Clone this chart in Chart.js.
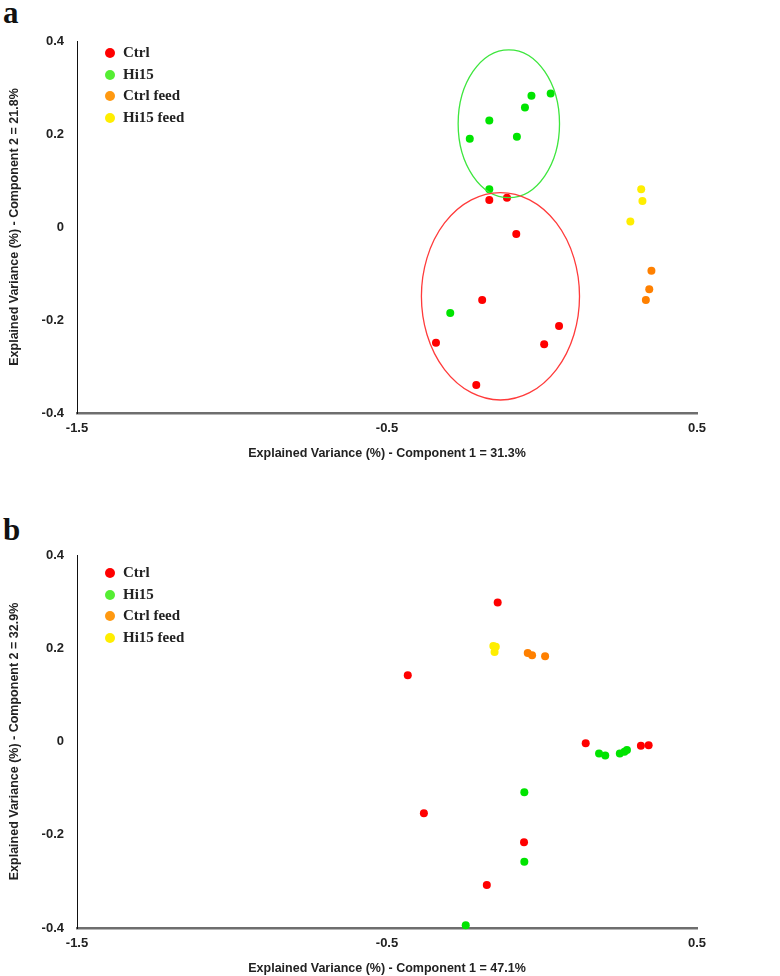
<!DOCTYPE html>
<html>
<head>
<meta charset="utf-8">
<script src="https://cdn.jsdelivr.net/npm/chart.js@4"></script>
<style>
    html, body { margin: 0; padding: 0; background: #fff; overflow: hidden; }
    body { width: 780px; height: 976px; position: relative; }
    .panel { position: absolute; left: 0; width: 780px; }
    .tag { position: absolute; left: 3px; font: bold 31px "Liberation Serif", serif; color: #111; }
    .legend { position: absolute; left: 105px; font: bold 15px "Liberation Serif", serif; color: #222; }
    .legend div { position: absolute; left: 0; white-space: nowrap; height: 20px; line-height: 20px; }
    .legend span { display: inline-block; width: 10px; height: 10px; border-radius: 50%; margin-right: 8px; vertical-align: -1px; }
</style>
</head>
<body>
<div class="tag" style="top:-5px">a</div>
<div class="tag" style="top:512px">b</div>
<div class="panel" style="top:0; height:480px"><canvas id="chartA" width="780" height="480"></canvas></div>
<div class="panel" style="top:480px; height:496px"><canvas id="chartB" width="780" height="496"></canvas></div>
<div class="legend" id="legendA" style="top:42px"></div>
<div class="legend" id="legendB" style="top:562px"></div>
<script>
"use strict";

var groups = ["Ctrl", "Hi15", "Ctrl feed", "Hi15 feed"];
var pointColors = ["#ff0000", "#00e400", "#ff8000", "#ffee00"];
var legendColors = ["#ff0000", "#55ee33", "#ff9911", "#ffee00"];

var xTicks = [-1.5, -0.5, 0.5];
var yTicks = [-0.4, -0.2, 0, 0.2, 0.4];

// panel a
var ctrlAx = [-0.170, -0.113, -0.083, -0.193, -0.342, 0.055, 0.007, -0.212];
var ctrlAy = [0.058, 0.063, -0.015, -0.157, -0.249, -0.213, -0.252, -0.340];
var hi15Ax = [-0.233, -0.170, -0.081, -0.055, -0.034, 0.028, -0.170, -0.296];
var hi15Ay = [0.190, 0.229, 0.194, 0.257, 0.282, 0.287, 0.081, -0.185];
var ctrlFeedAx = [0.353, 0.346, 0.335];
var ctrlFeedAy = [-0.094, -0.134, -0.157];
var hi15FeedAx = [0.320, 0.324, 0.285];
var hi15FeedAy = [0.081, 0.056, 0.012];

// ellipses of panel a: centre x, centre y, radius x, radius y
var ellipseCtrlA = [-0.134, -0.149, 0.255, 0.223];
var ellipseHi15A = [-0.107, 0.222, 0.1635, 0.159];

// panel b
var ctrlBx = [-0.143, -0.433, 0.141, 0.319, 0.344, -0.381, -0.058, -0.178];
var ctrlBy = [0.298, 0.142, -0.004, -0.009, -0.008, -0.154, -0.216, -0.308];
var hi15Bx = [0.184, 0.204, 0.251, 0.266, 0.274, -0.057, -0.057, -0.246];
var hi15By = [-0.026, -0.030, -0.026, -0.022, -0.018, -0.109, -0.258, -0.394];
var ctrlFeedBx = [-0.046, -0.032, 0.010];
var ctrlFeedBy = [0.190, 0.185, 0.183];
var hi15FeedBx = [-0.157, -0.149, -0.153];
var hi15FeedBy = [0.205, 0.203, 0.192];

function toPoints(xs, ys)
{
    return xs.map(function(x, i)
    {
        return { x: x, y: ys[i] };
    });
}

var ellipsePlugin =
{
    id: "ellipses",
    afterDatasetsDraw: function(chart, args, opts)
    {
        var ctx = chart.ctx;
        var xs = chart.scales.x;
        var ys = chart.scales.y;
        (opts.items || []).forEach(function(item)
        {
            var e = item.shape;
            var cx = xs.getPixelForValue(e[0]);
            var cy = ys.getPixelForValue(e[1]);
            var rx = Math.abs(xs.getPixelForValue(e[0] + e[2]) - cx);
            var ry = Math.abs(ys.getPixelForValue(e[1] + e[3]) - cy);
            ctx.save();
            ctx.beginPath();
            ctx.ellipse(cx, cy, rx, ry, 0, 0, Math.PI * 2);
            ctx.strokeStyle = item.color;
            ctx.lineWidth = 1.3;
            ctx.stroke();
            ctx.restore();
        });
    }
};

function buildLegend(id)
{
    var box = document.getElementById(id);
    groups.forEach(function(name, i)
    {
        var row = document.createElement("div");
        row.style.top = (i * 21.7) + "px";
        var dot = document.createElement("span");
        dot.style.background = legendColors[i];
        row.appendChild(dot);
        row.appendChild(document.createTextNode(name));
        box.appendChild(row);
    });
}

function makeChart(canvasId, series, ellipses, xTitle, yTitle, layout)
{
    var ctx = document.getElementById(canvasId).getContext("2d");
    var datasets = series.map(function(points, i)
    {
        return {
            label: groups[i],
            data: points,
            backgroundColor: pointColors[i],
            borderColor: pointColors[i],
            borderWidth: 0,
            pointRadius: 4,
            pointHoverRadius: 4,
            clip: false
        };
    });
    var tickFont = { family: "'Liberation Sans', Arial, sans-serif", size: 13, weight: "bold" };
    var titleFont = { family: "'Liberation Sans', Arial, sans-serif", size: 12.5, weight: "bold" };

    return new Chart(ctx,
    {
        type: "scatter",
        data: { datasets: datasets },
        plugins: [ellipsePlugin],
        options:
        {
            responsive: false,
            animation: false,
            layout: { padding: { top: layout.top, right: 83, bottom: 0, left: 0 } },
            plugins:
            {
                legend: { display: false },
                tooltip: { enabled: false },
                ellipses: { items: ellipses }
            },
            scales:
            {
                x:
                {
                    type: "linear",
                    min: -1.5,
                    max: 0.5,
                    afterBuildTicks: function(scale)
                    {
                        scale.ticks = xTicks.map(function(v) { return { value: v }; });
                    },
                    afterFit: function(scale)
                    {
                        scale.height = layout.xHeight;
                    },
                    grid: { display: false, drawTicks: false },
                    border: { display: true, color: "#6e6e6e", width: 2.5 },
                    ticks: { font: tickFont, color: "#222", padding: 8, maxRotation: 0 },
                    title: { display: true, text: xTitle, font: titleFont, color: "#222", padding: { top: 4, bottom: layout.xTitlePad } }
                },
                y:
                {
                    type: "linear",
                    min: -0.4,
                    max: 0.4,
                    afterBuildTicks: function(scale)
                    {
                        scale.ticks = yTicks.map(function(v) { return { value: v }; });
                    },
                    afterFit: function(scale)
                    {
                        scale.width = 77;
                    },
                    grid: { display: false, drawTicks: false },
                    border: { display: true, color: "#111", width: 1 },
                    ticks: { font: tickFont, color: "#222", padding: 13 },
                    title: { display: true, text: yTitle, font: titleFont, color: "#222", padding: { top: 7, bottom: 0 } }
                }
            }
        }
    });
}

makeChart("chartA",
    [toPoints(ctrlAx, ctrlAy), toPoints(hi15Ax, hi15Ay), toPoints(ctrlFeedAx, ctrlFeedAy), toPoints(hi15FeedAx, hi15FeedAy)],
    [{ shape: ellipseHi15A, color: "#3ee63e" }, { shape: ellipseCtrlA, color: "#ff3b3b" }],
    "Explained Variance (%) - Component 1 = 31.3%",
    "Explained Variance (%) - Component 2 = 21.8%",
    { top: 41, xHeight: 67, xTitlePad: 19 });

makeChart("chartB",
    [toPoints(ctrlBx, ctrlBy), toPoints(hi15Bx, hi15By), toPoints(ctrlFeedBx, ctrlFeedBy), toPoints(hi15FeedBx, hi15FeedBy)],
    [],
    "Explained Variance (%) - Component 1 = 47.1%",
    "Explained Variance (%) - Component 2 = 32.9%",
    { top: 75, xHeight: 48, xTitlePad: 0 });

buildLegend("legendA");
buildLegend("legendB");
</script>
</body>
</html>
